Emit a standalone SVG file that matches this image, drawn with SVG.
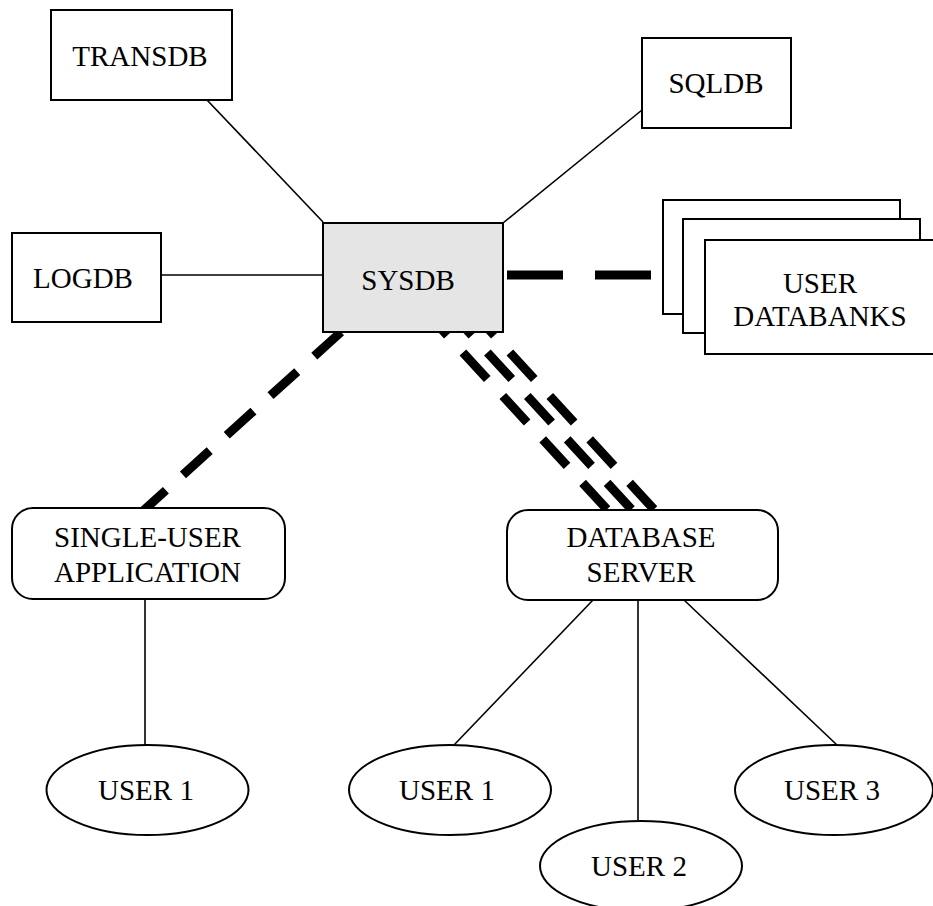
<svg xmlns="http://www.w3.org/2000/svg" width="933" height="906" viewBox="0 0 933 906">
<style>
  .box { fill: #ffffff; stroke: #000000; stroke-width: 2; }
  .sys { fill: #e5e5e5; stroke: #000000; stroke-width: 2; }
  .lbl { font-family: "Liberation Serif", "Times New Roman", serif; font-size: 29px; fill: #000000; text-anchor: middle; }
  .thin { stroke: #000000; stroke-width: 1.6; fill: none; }
  .dash { stroke: #000000; stroke-width: 9; fill: none; stroke-dasharray: 36 23; }
  .dashh { stroke: #000000; stroke-width: 9; fill: none; stroke-dasharray: 56 32; }
</style>
<rect width="933" height="906" fill="#ffffff"/>
<g id="connectors">
  <line class="thin" x1="207" y1="100" x2="323" y2="222"/>
  <line class="thin" x1="642" y1="110" x2="503" y2="223"/>
  <line class="thin" x1="161" y1="275" x2="323" y2="275"/>
  <line class="dashh" x1="507" y1="275" x2="652" y2="275"/>
  <line class="dash" x1="341" y1="332" x2="144" y2="510"/>
  <line class="dash" x1="423" y1="309" x2="607.5" y2="510"/>
  <line class="dash" x1="447.5" y1="309" x2="632" y2="510"/>
  <line class="dash" x1="470" y1="309" x2="654.5" y2="510"/>
  <line class="thin" x1="145" y1="599" x2="145" y2="745"/>
  <line class="thin" x1="593" y1="600" x2="454" y2="745"/>
  <line class="thin" x1="638" y1="600" x2="638" y2="820"/>
  <line class="thin" x1="684" y1="600" x2="837" y2="745"/>
</g>
<g id="transdb">
  <rect class="box" x="51" y="10" width="181" height="90"/>
  <text class="lbl" x="140" y="66">TRANSDB</text>
</g>
<g id="sqldb">
  <rect class="box" x="642" y="38" width="149" height="90"/>
  <text class="lbl" x="716" y="93">SQLDB</text>
</g>
<g id="logdb">
  <rect class="box" x="12" y="233" width="149" height="89"/>
  <text class="lbl" x="83" y="288">LOGDB</text>
</g>
<g id="sysdb">
  <rect class="sys" x="323" y="223" width="180" height="109"/>
  <text class="lbl" x="408" y="290">SYSDB</text>
</g>
<g id="user-databanks">
  <rect class="box" x="663" y="200" width="237" height="114"/>
  <rect class="box" x="683" y="219" width="237" height="114"/>
  <rect class="box" x="705" y="240" width="240" height="114"/>
  <text class="lbl" x="820" y="293">USER</text>
  <text class="lbl" x="820" y="326">DATABANKS</text>
</g>
<g id="single-user-application">
  <rect class="box" x="12" y="508" width="273" height="91" rx="21" ry="21"/>
  <text class="lbl" x="147.5" y="547">SINGLE-USER</text>
  <text class="lbl" x="147.5" y="582">APPLICATION</text>
</g>
<g id="database-server">
  <rect class="box" x="507" y="510" width="271" height="90" rx="21" ry="21"/>
  <text class="lbl" x="641" y="547">DATABASE</text>
  <text class="lbl" x="641" y="582">SERVER</text>
</g>
<g id="user1-single">
  <ellipse class="box" cx="147.5" cy="790" rx="101" ry="45"/>
  <text class="lbl" x="146" y="800">USER 1</text>
</g>
<g id="user1-server">
  <ellipse class="box" cx="450" cy="790" rx="101" ry="45"/>
  <text class="lbl" x="447" y="800">USER 1</text>
</g>
<g id="user2-server">
  <ellipse class="box" cx="641" cy="866" rx="101" ry="45"/>
  <text class="lbl" x="639" y="876">USER 2</text>
</g>
<g id="user3-server">
  <ellipse class="box" cx="834" cy="790" rx="99" ry="45"/>
  <text class="lbl" x="832" y="800">USER 3</text>
</g>
</svg>
